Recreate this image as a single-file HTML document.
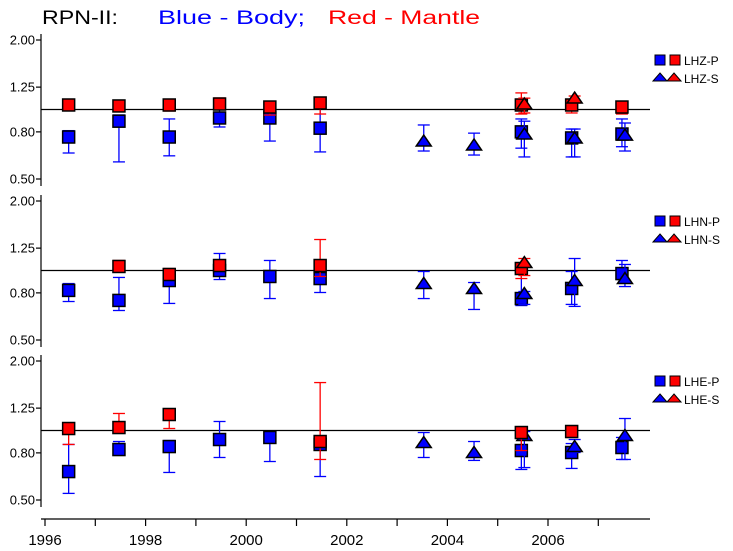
<!DOCTYPE html>
<html><head><meta charset="utf-8"><style>
html,body{margin:0;padding:0;background:#fff;}
svg{display:block;font-family:"Liberation Sans",sans-serif;}
</style></head><body>
<svg id="chart" width="733" height="551" viewBox="0 0 733 551">
<g>
<text x="42" y="24" font-size="19" fill="#000" textLength="76" lengthAdjust="spacingAndGlyphs">RPN-II:</text>
<text x="158" y="24" font-size="19" fill="#0000ff" textLength="147" lengthAdjust="spacingAndGlyphs">Blue - Body;</text>
<text x="328" y="24" font-size="19" fill="#ff0000" textLength="152" lengthAdjust="spacingAndGlyphs">Red - Mantle</text>
</g>
</svg>
<script>
// ---- data ----
const panelNames = ["LHZ", "LHN", "LHE"];
const yTicks = [0.5, 0.8, 1.25, 2.0];
const yTickLabels = ["0.50", "0.80", "1.25", "2.00"];
const xTicks = [1996,1997,1998,1999,2000,2001,2002,2003,2004,2005,2006,2007];
const xTickLabels = ["1996","","1998","","2000","","2002","","2004","","2006",""];

// each entry: [year, value, errHigh, errLow]
const lhzBodyP = [[1996.5,0.76,0.81,0.648],[1997.5,0.89,0.947,0.593],[1998.5,0.76,0.91,0.63],[1999.5,0.919,1.005,0.84],[2000.5,0.919,0.966,0.73],[2001.5,0.83,1.046,0.655],[2005.5,0.80,0.91,0.68],[2006.5,0.753,0.823,0.623],[2007.5,0.783,0.91,0.69]];
const lhzBodyS = [[2003.5,0.723,0.857,0.661],[2004.5,0.695,0.79,0.635],[2005.5,0.775,0.89,0.623],[2006.5,0.745,0.823,0.623],[2007.5,0.767,0.874,0.661]];
const lhzMantleP = [[1996.5,1.046,1.088,0.995],[1997.5,1.036,1.067,1.005],[1998.5,1.046,1.078,0.985],[1999.5,1.056,1.122,1.015],[2000.5,1.025,1.078,0.946],[2001.5,1.067,1.11,0.956],[2005.5,1.046,1.18,0.956],[2006.5,1.046,1.10,0.966],[2007.5,1.025,1.078,0.956]];
const lhzMantleS = [[2005.5,1.046,1.12,0.966],[2006.5,1.11,1.144,1.067]];

const lhnBodyP = [[1996.5,0.82,0.878,0.734],[1997.5,0.742,0.933,0.671],[1998.5,0.905,0.942,0.72],[1999.5,1.0,1.185,0.914],[2000.5,0.942,1.105,0.756],[2001.5,0.923,1.072,0.803],[2005.5,0.756,0.98,0.705],[2006.5,0.836,0.99,0.713],[2007.5,0.97,1.105,0.914]];
const lhnBodyS = [[2003.5,0.87,0.99,0.756],[2004.5,0.827,0.887,0.678],[2005.5,0.787,0.811,0.713],[2006.5,0.896,1.127,0.699],[2007.5,0.914,1.062,0.852]];
const lhnMantleP = [[1997.5,1.041,1.105,1.0],[1998.5,0.961,1.02,0.914],[1999.5,1.051,1.062,1.02],[2001.5,1.051,1.362,0.942],[2005.5,1.02,1.072,0.923]];
const lhnMantleS = [[2005.5,1.072,1.127,0.951]];

const lheBodyP = [[1996.5,0.664,0.87,0.534],[1997.5,0.827,0.896,0.811],[1998.5,0.852,0.905,0.658],[1999.5,0.914,1.094,0.764],[2000.5,0.933,0.933,0.734],[2001.5,0.87,0.905,0.632],[2005.5,0.819,0.961,0.678],[2006.5,0.803,0.878,0.685],[2007.5,0.844,0.933,0.749]];
const lheBodyS = [[2003.5,0.878,0.98,0.764],[2004.5,0.795,0.896,0.742],[2005.5,0.942,0.99,0.691],[2006.5,0.844,0.914,0.803],[2007.5,0.942,1.127,0.749]];
const lheMantleP = [[1996.5,1.02,1.072,0.87],[1997.5,1.03,1.185,1.01],[1998.5,1.173,1.233,1.02],[2001.5,0.896,1.613,0.749],[2005.5,0.98,1.02,0.819],[2006.5,0.99,1.03,0.933]];
const lheMantleS = [];

const panels = [
  {name:"LHZ", bp:lhzBodyP, bs:lhzBodyS, mp:lhzMantleP, ms:lhzMantleS},
  {name:"LHN", bp:lhnBodyP, bs:lhnBodyS, mp:lhnMantleP, ms:lhnMantleS},
  {name:"LHE", bp:lheBodyP, bs:lheBodyS, mp:lheMantleP, ms:lheMantleS}
];

// ---- layout ----
const NS = "http://www.w3.org/2000/svg";
const svg = document.getElementById("chart");
const panelTop = [40, 201, 361];
const octave = 69.5;
const axisX = 41, lineEnd = 650;
function xScale(yr){ return 45 + (yr - 1996) * 50.3; }
function yScale(v, p){ return panelTop[p] + Math.log2(2 / v) * octave; }
function mk(tag, attrs, parent){
  const e = document.createElementNS(NS, tag);
  for (const k in attrs) e.setAttribute(k, attrs[k]);
  (parent || svg).appendChild(e);
  return e;
}
const BLUE = "#0000ff", RED = "#ff0000";

function errBar(g, x, hi, lo, color){
  mk("line",{x1:x,y1:hi,x2:x,y2:lo,stroke:color,"stroke-width":1.3},g);
  mk("line",{x1:x-6,y1:hi,x2:x+6,y2:hi,stroke:color,"stroke-width":1.3},g);
  mk("line",{x1:x-6,y1:lo,x2:x+6,y2:lo,stroke:color,"stroke-width":1.3},g);
}
function square(g, x, y, color){
  mk("rect",{x:x-6,y:y-6,width:12,height:12,fill:color,stroke:"#000","stroke-width":1.5},g);
}
function tri(g, x, y, color){
  mk("polygon",{points:`${x},${y-7} ${x+7.5},${y+4} ${x-7.5},${y+4}`,fill:color,stroke:"#000","stroke-width":1.5},g);
}

panels.forEach((pn, p) => {
  const g = mk("g", {});
  
  
  const ya = mk("line",{x1:axisX,y1:panelTop[p]-6,x2:axisX,y2:panelTop[p]+146,stroke:"#000","stroke-width":1.2},g);
  
  
  yTicks.forEach((t, i) => {
    const y = yScale(t, p);
    mk("line",{x1:axisX-5,y1:y,x2:axisX,y2:y,stroke:"#000","stroke-width":1.2},g);
    const lb = mk("text",{x:axisX-6,y:y+4.5,"font-size":13,"text-anchor":"end",fill:"#000"},g);
    lb.textContent = yTickLabels[i];
    
    
  });
  const rl = mk("line",{x1:axisX,y1:yScale(1,p),x2:lineEnd,y2:yScale(1,p),stroke:"#000","stroke-width":1.3},g);
  
  

  const series = [
    [pn.bp, BLUE, "sq", -1.5, "body-p"],
    [pn.bs, BLUE, "tri", 1.5, "body-s"],
    [pn.mp, RED, "sq", -1.5, "mantle-p"],
    [pn.ms, RED, "tri", 1.5, "mantle-s"]
  ];
  series.forEach(s => {
    const [data, color, shape, off, nm] = s;
    data.forEach(d => {
      const pg = mk("g", {}, g);
      
      
      const x = xScale(d[0]) + off;
      errBar(pg, x, yScale(d[2], p), yScale(d[3], p), color);
      if (shape === "sq") square(pg, x, yScale(d[1], p), color);
      else tri(pg, x, yScale(d[1], p), color);
    });
  });

  const lg = mk("g", {}, g);
  
  
  const ly = panelTop[p] + 20;
  mk("rect",{x:655,y:ly-5,width:10,height:10,fill:BLUE,stroke:"#000","stroke-width":1},lg);
  mk("rect",{x:670,y:ly-5,width:10,height:10,fill:RED,stroke:"#000","stroke-width":1},lg);
  const t1 = mk("text",{x:684,y:ly+5,"font-size":12,fill:"#000"},lg);
  t1.textContent = pn.name + "-P";
  
  
  const ty = ly + 18;
  mk("polygon",{points:`660,${ty-5} 667,${ty+3} 653,${ty+3}`,fill:BLUE,stroke:"#000","stroke-width":1},lg);
  mk("polygon",{points:`674,${ty-5} 681,${ty+3} 667,${ty+3}`,fill:RED,stroke:"#000","stroke-width":1},lg);
  const t2 = mk("text",{x:684,y:ty+5,"font-size":12,fill:"#000"},lg);
  t2.textContent = pn.name + "-S";
  
  
});

const xg = mk("g", {});


mk("line",{x1:axisX,y1:519,x2:lineEnd,y2:519,stroke:"#000","stroke-width":1.2},xg);
xTicks.forEach((t, i) => {
  const x = xScale(t);
  mk("line",{x1:x,y1:519,x2:x,y2:526,stroke:"#000","stroke-width":1.2},xg);
  if (xTickLabels[i]) {
    const lb = mk("text",{x:x,y:545,"font-size":15,"text-anchor":"middle",fill:"#000"},xg);
    lb.textContent = xTickLabels[i];
    
    
  }
});
</script>
</body></html>
